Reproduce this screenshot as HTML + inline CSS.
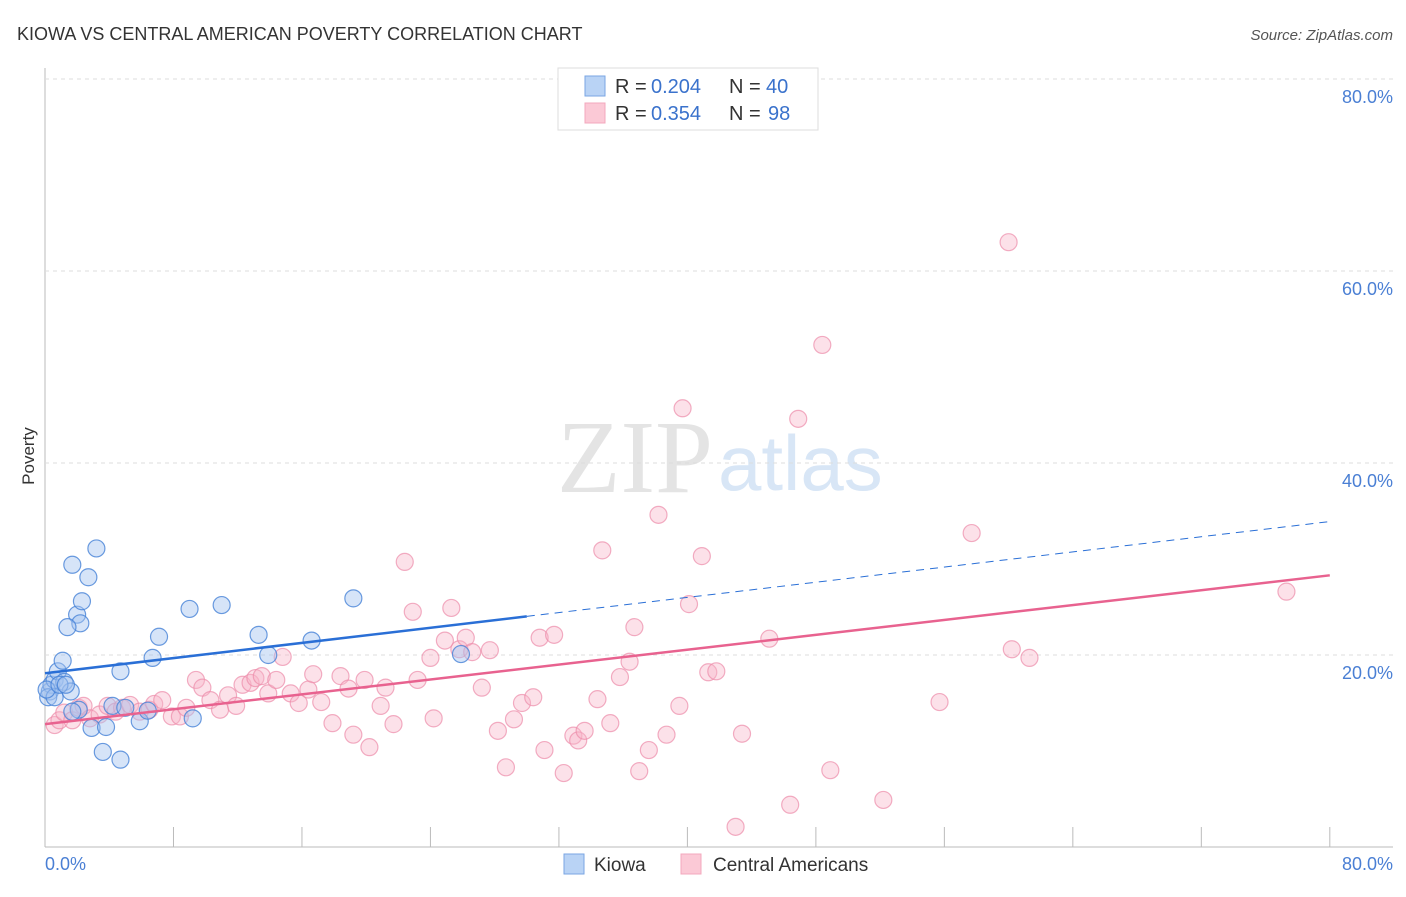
<!DOCTYPE html>
<html><head><meta charset="utf-8"><style>
body{margin:0;background:#fff;font-family:"Liberation Sans",sans-serif}
</style></head><body>
<svg id="c" width="1406" height="892" xmlns="http://www.w3.org/2000/svg">
<text x="17" y="40" font-size="18" fill="#333">KIOWA VS CENTRAL AMERICAN POVERTY CORRELATION CHART</text>
<text x="1393" y="40" font-size="15" fill="#555" font-style="italic" text-anchor="end">Source: ZipAtlas.com</text>
<text x="713" y="492" font-size="104" fill="#e4e4e4" font-family="Liberation Serif,serif" text-anchor="end">ZIP</text>
<text x="718" y="490" font-size="78" fill="#d8e6f6">atlas</text>
<text x="34" y="456" font-size="17" fill="#333" transform="rotate(-90 34 456)" text-anchor="middle">Poverty</text>
<g id="grid"></g><g id="pts"></g><g id="lines"></g>
<text x="45" y="870" font-size="18" fill="#4a7fd4">0.0%</text>
<text x="1393" y="870" font-size="18" fill="#4a7fd4" text-anchor="end">80.0%</text>
<g>
<rect x="558" y="68" width="260" height="62" fill="#fff" stroke="#ddd"/>
<rect x="585" y="76" width="20" height="20" fill="#b9d3f5" stroke="#7aa6e3"/>
<rect x="585" y="103" width="20" height="20" fill="#fbc9d6" stroke="#f3a8bd"/>
<text x="615" y="93" font-size="20" fill="#333">R =</text><text x="651" y="93" font-size="20" fill="#3a72cc">0.204</text>
<text x="729" y="93" font-size="20" fill="#333">N =</text><text x="766" y="93" font-size="20" fill="#3a72cc">40</text>
<text x="615" y="120" font-size="20" fill="#333">R =</text><text x="651" y="120" font-size="20" fill="#3a72cc">0.354</text>
<text x="729" y="120" font-size="20" fill="#333">N =</text><text x="768" y="120" font-size="20" fill="#3a72cc">98</text>
</g>
<g><rect x="564" y="854" width="20" height="20" fill="#b9d3f5" stroke="#7aa6e3"/><text x="594" y="871" font-size="19" fill="#333">Kiowa</text></g>
<g><rect x="681" y="854" width="20" height="20" fill="#fbc9d6" stroke="#f3a8bd"/><text x="713" y="871" font-size="19" fill="#333">Central Americans</text></g>
</svg>
<script>
const yTicks=[20,40,60,80];
const xTicks=[8,16,24,32,40,48,56,64,72,80];
const kiowaX=[0.3,0.4,0.6,0.8,1.1,1.2,1.6,1.7,2.0,2.3,2.2,2.7,3.2,1.4,2.9,3.6,3.8,4.2,4.7,4.7,5.0,5.9,6.4,6.7,7.1,9.0,9.2,11.0,13.3,13.9,16.6,19.2,25.9,0.2,0.6,2.1,1.7,0.1,0.9,1.3];
const kiowaY=[16.2,16.9,17.4,18.3,19.4,17.2,16.2,29.4,24.2,25.6,23.3,28.1,31.1,22.9,12.4,9.9,12.5,14.7,18.3,9.1,14.5,13.1,14.2,19.7,21.9,24.8,13.4,25.2,22.1,20.0,21.5,25.9,20.1,15.6,15.6,14.3,14.1,16.4,16.9,16.9];
const caX=[0.6,0.9,1.2,1.7,2.1,2.4,2.8,3.4,3.9,4.4,4.8,5.3,5.9,6.5,6.8,7.3,7.9,8.4,8.8,9.4,9.8,10.3,10.9,11.4,11.9,12.3,12.8,13.1,13.5,13.9,14.4,14.8,15.3,15.8,16.4,16.7,17.2,17.9,18.4,18.9,19.2,19.9,20.2,20.9,21.2,21.7,22.4,22.9,23.2,24.0,24.2,24.9,25.3,25.8,26.2,26.6,27.2,27.7,28.2,28.7,29.2,29.7,30.4,30.8,31.1,31.7,32.3,32.9,33.2,33.6,34.4,34.7,35.2,35.8,36.4,36.7,37.0,37.6,38.2,38.7,39.5,39.7,40.1,40.9,41.3,41.8,43.0,43.4,45.1,46.4,46.9,48.9,48.4,52.2,55.7,57.7,60.0,60.2,61.3,77.3];
const caY=[12.7,13.2,14.0,13.2,14.5,14.7,13.4,13.8,14.7,14.1,14.5,14.8,14.1,14.3,14.9,15.3,13.6,13.6,14.5,17.4,16.6,15.3,14.3,15.8,14.7,16.9,17.1,17.6,17.8,16.0,17.4,19.8,16.0,15.0,16.4,18.0,15.1,12.9,17.8,16.5,11.7,17.4,10.4,14.7,16.6,12.8,29.7,24.5,17.4,19.7,13.4,21.5,24.9,20.6,21.8,20.3,16.6,20.5,12.1,8.3,13.3,15.0,15.6,21.8,10.1,22.1,7.7,11.6,11.1,12.1,15.4,30.9,12.9,17.7,19.3,22.9,7.9,10.1,34.6,11.7,14.7,45.7,25.3,30.3,18.2,18.3,2.1,11.8,21.7,4.4,44.6,8.0,52.3,4.9,15.1,32.7,63.0,20.6,19.7,26.6];
const kiowaFit=[18.1,33.9];
const caFit=[12.8,28.3];
const kiowaSolidEnd=30;
const X=v=>45+v*16.06, Y=v=>847-v*9.6;
const NS='http://www.w3.org/2000/svg';
function mk(tag,attrs,parent){const e=document.createElementNS(NS,tag);for(const k in attrs)e.setAttribute(k,attrs[k]);parent.appendChild(e);return e;}
const grid=document.getElementById('grid');
const ya=mk('line',{x1:45,y1:68,x2:45,y2:847,stroke:'#bbb'},grid);


const xa=mk('line',{x1:45,y1:847,x2:1393,y2:847,stroke:'#bbb'},grid);


yTicks.forEach(t=>{
 const g=mk('line',{x1:45,y1:Y(t),x2:1393,y2:Y(t),stroke:'#ddd','stroke-dasharray':'4,4'},grid);
 
 
 const l=mk('text',{x:1393,y:Y(t)+24,'font-size':18,fill:'#4a7fd4','text-anchor':'end'},grid);
 l.textContent=t.toFixed(1)+'%';
 
 
});
xTicks.forEach(v=>{
 const tk=mk('line',{x1:X(v),y1:827,x2:X(v),y2:847,stroke:'#bbb'},grid);
 
 
});
const pts=document.getElementById('pts');
caX.forEach((x,i)=>{
 const c=mk('circle',{cx:X(x),cy:Y(caY[i]),r:8.5,fill:'rgba(248,180,200,0.4)',stroke:'rgba(236,140,170,0.7)','stroke-width':1.2},pts);
 
 
});
kiowaX.forEach((x,i)=>{
 const c=mk('circle',{cx:X(x),cy:Y(kiowaY[i]),r:8.5,fill:'rgba(164,196,240,0.45)',stroke:'rgba(70,130,215,0.8)','stroke-width':1.2},pts);
 
 
});
const lines=document.getElementById('lines');
const fy=(f,x)=>f[0]+(f[1]-f[0])*x/80;
const l1=mk('line',{x1:X(0),y1:Y(fy(kiowaFit,0)),x2:X(kiowaSolidEnd),y2:Y(fy(kiowaFit,kiowaSolidEnd)),stroke:'#2a6fd6','stroke-width':2.5},lines);


const l2=mk('line',{x1:X(kiowaSolidEnd),y1:Y(fy(kiowaFit,kiowaSolidEnd)),x2:X(80),y2:Y(fy(kiowaFit,80)),stroke:'#2a6fd6','stroke-width':1,'stroke-dasharray':'8,6'},lines);


const l3=mk('line',{x1:X(0),y1:Y(fy(caFit,0)),x2:X(80),y2:Y(fy(caFit,80)),stroke:'#e8628f','stroke-width':2.5},lines);


</script>
</body></html>
